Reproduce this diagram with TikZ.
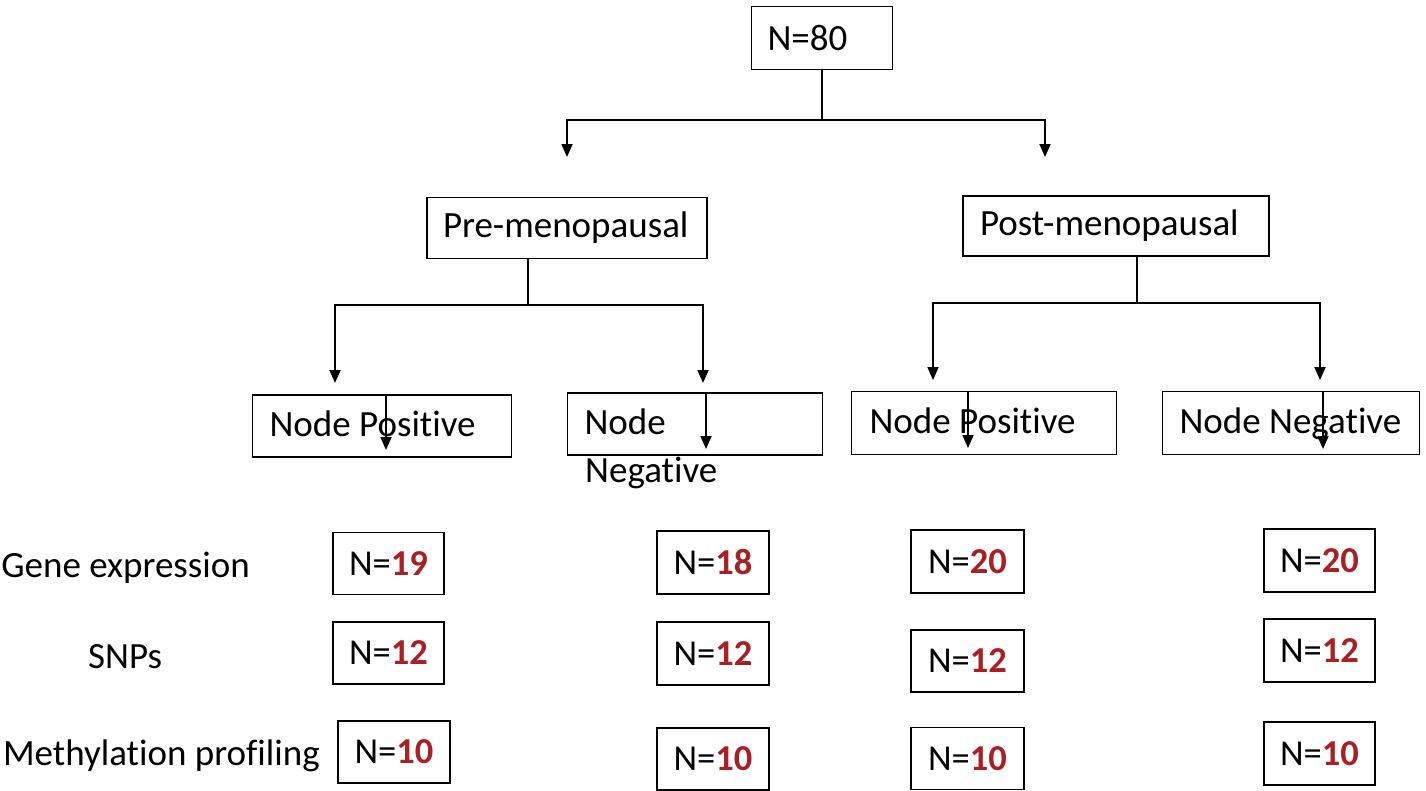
\documentclass[tikz,border=0pt]{standalone}
\usepackage{fontspec}
\setmainfont{Carlito}[Ligatures=NoCommon]
\usetikzlibrary{arrows.meta}
\definecolor{nred}{RGB}{168,32,36}
\newcommand{\padtext}[3]{\makebox[#1pt][l]{\hspace{#2pt}#3}}
\begin{document}
\begin{tikzpicture}[x=1pt,y=-1pt,
  box/.style={draw, line width=1.8pt, inner xsep=0pt, inner ysep=0pt, font=\fontsize{37}{42}\selectfont},
  nbox/.style={draw, line width=1.8pt, minimum width=111pt, minimum height=62pt, inner sep=0pt, font=\fontsize{36.5}{42}\selectfont},
  lbl/.style={font=\fontsize{37}{44}\selectfont, inner sep=0pt},
  conn/.style={line width=1.8pt},
  arr/.style={conn, -{Triangle[width=11pt,length=13pt]}}]
\useasboundingbox (0,0) rectangle (1426,790);
\clip (0,0) rectangle (1426,790);

% top level
\node[box, minimum height=63pt] (top) at (822,38) {\padtext{141}{16}{N=80}};
\node[box, minimum height=61pt] (pre) at (567,228) {\padtext{280}{16}{Pre-menopausal}};
\node[box, minimum height=60pt] (post) at (1116,226) {\padtext{306}{17}{Post-menopausal}};

% second level
\node[box, minimum height=62pt, text depth=0pt, text height=20pt] (np1) at (382,426) {\padtext{259}{17}{Node Positive}};
\node[box, minimum height=62pt, text depth=0pt, text height=20pt] (nn1) at (695,424) {\padtext{255}{17}{Node}};
\node[lbl, anchor=base west] (neg1) at (585,482) {Negative};
\node[box, minimum height=63pt, text depth=0pt, text height=20pt] (np2) at (984,423) {\padtext{265}{18}{Node Positive}};
\node[box, minimum height=63pt, text depth=0pt, text height=20pt] (nn2) at (1291,423) {\padtext{257}{17}{Node Negative}};

% connectors top
\coordinate (j0) at (822,120);
\coordinate (a1) at (567,157);
\coordinate (a2) at (1045,157);
\draw[conn] (top.south) -- (j0);
\draw[arr] (j0) -| (a1);
\draw[arr] (j0) -| (a2);

% connectors pre
\coordinate (j1) at (528,305);
\coordinate (b1) at (335,383);
\coordinate (b2) at (703,383);
\draw[conn] (pre.south -| j1) -- (j1);
\draw[arr] (j1) -| (b1);
\draw[arr] (j1) -| (b2);

% connectors post
\coordinate (j2) at (1137,303);
\coordinate (c1) at (933,380);
\coordinate (c2) at (1320,380);
\draw[conn] (post.south -| j2) -- (j2);
\draw[arr] (j2) -| (c1);
\draw[arr] (j2) -| (c2);

% arrows inside second-level boxes
\coordinate (ia1) at (386,450);
\coordinate (ia2) at (706,449);
\coordinate (ia3) at (968,448);
\coordinate (ia4) at (1323,449);
\draw[arr] (np1.north -| ia1) -- (ia1);
\draw[arr] (nn1.north -| ia2) -- (ia2);
\draw[arr] (np2.north -| ia3) -- (ia3);
\draw[arr] (nn2.north -| ia4) -- (ia4);

% row labels
\node[lbl, anchor=base east] (lge) at (250,577) {Gene expression};
\node[lbl, anchor=base west] (lsn) at (88,668) {SNPs};
\node[lbl, anchor=base east] (lme) at (320,765) {Methylation profiling};

% counts
\node[nbox] (g1) at (388.5,563.5) {N={\bfseries\color{nred}19}};
\node[nbox] (s1) at (388.5,653) {N={\bfseries\color{nred}12}};
\node[nbox, minimum width=112pt] (m1) at (394,752) {N={\bfseries\color{nred}10}};

\node[nbox, minimum width=112pt, minimum height=63pt] (g2) at (713,562.5) {N={\bfseries\color{nred}18}};
\node[nbox, minimum width=112pt, minimum height=63pt] (s2) at (713,653.5) {N={\bfseries\color{nred}12}};
\node[nbox, minimum width=112pt] (m2) at (713,759) {N={\bfseries\color{nred}10}};

\node[nbox, minimum width=113pt, minimum height=63pt] (g3) at (967.5,561.5) {N={\bfseries\color{nred}20}};
\node[nbox, minimum width=113pt] (s3) at (967.5,661) {N={\bfseries\color{nred}12}};
\node[nbox, minimum width=113pt] (m3) at (967.5,758.5) {N={\bfseries\color{nred}10}};

\node[nbox, minimum height=63pt] (g4) at (1319.5,560.5) {N={\bfseries\color{nred}20}};
\node[nbox, minimum height=63pt] (s4) at (1319.5,650.5) {N={\bfseries\color{nred}12}};
\node[nbox, minimum height=63pt] (m4) at (1319.5,753.5) {N={\bfseries\color{nred}10}};
\end{tikzpicture}
\end{document}
